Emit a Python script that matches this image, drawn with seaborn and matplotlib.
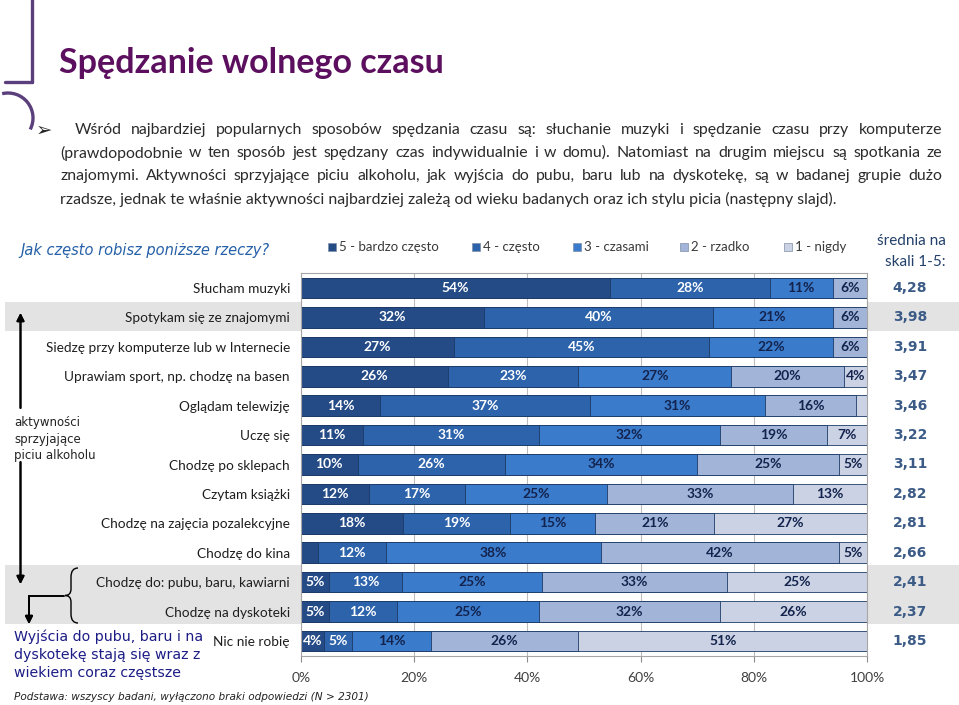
import numpy as np
import pandas as pd
import matplotlib.pyplot as plt
import seaborn as sns
from matplotlib.lines import Line2D
from matplotlib.patches import Rectangle, Arc, PathPatch
from matplotlib.path import Path

activities = [
    "Słucham muzyki",
    "Spotykam się ze znajomymi",
    "Siedzę przy komputerze lub w Internecie",
    "Uprawiam sport, np. chodzę na basen",
    "Oglądam telewizję",
    "Uczę się",
    "Chodzę po sklepach",
    "Czytam książki",
    "Chodzę na zajęcia pozalekcyjne",
    "Chodzę do kina",
    "Chodzę do: pubu, baru, kawiarni",
    "Chodzę na dyskoteki",
    "Nic nie robię",
]
bardzo_czesto = [54, 32, 27, 26, 14, 11, 10, 12, 18, 3, 5, 5, 4]
czesto = [28, 40, 45, 23, 37, 31, 26, 17, 19, 12, 13, 12, 5]
czasami = [11, 21, 22, 27, 31, 32, 34, 25, 15, 38, 25, 25, 14]
rzadko = [6, 6, 6, 20, 16, 19, 25, 33, 21, 42, 33, 32, 26]
nigdy = [0, 0, 0, 4, 2, 7, 5, 13, 27, 5, 25, 26, 51]
srednia = ["4,28", "3,98", "3,91", "3,47", "3,46", "3,22", "3,11",
           "2,82", "2,81", "2,66", "2,41", "2,37", "1,85"]
legend_labels = ["5 - bardzo często", "4 - często", "3 - czasami", "2 - rzadko", "1 - nigdy"]
x_ticks = [0, 20, 40, 60, 80, 100]

colors = ["#244b86", "#2d63ab", "#3a7bcb", "#a2b5d8", "#cad2e3"]
label_colors = ["white", "white", "#13234d", "#13234d", "#13234d"]

W, H = 959, 705
sns.set_style("white")
plt.rcParams["font.family"] = ["Lato", "DejaVu Sans"]

fig = plt.figure(figsize=(W / 100, H / 100), dpi=100)


def fx(x):
    return x / W


def fy(y):
    return 1 - y / H


# logo lines
logo = "#5b3f7d"
fig.add_artist(Line2D([fx(32), fx(32)], [fy(0), fy(82)], color=logo, lw=2.4))
fig.add_artist(Line2D([fx(5), fx(32)], [fy(82), fy(82)], color=logo, lw=2.4))
fig.add_artist(Arc((fx(8), fy(118)), 2 * 25 / W, 2 * 25 / H, theta1=-35, theta2=100,
                   transform=fig.transFigure, color=logo, lw=2.4))

fig.text(fx(59), fy(63), "Spędzanie wolnego czasu", fontsize=24.5, fontweight="bold",
         color="#5c0f5e", va="center", ha="left")

# paragraph (justified by hand)
para = [
    ("Wśród najbardziej popularnych sposobów spędzania czasu są: słuchanie muzyki i spędzanie czasu przy komputerze", 75, 130, True),
    ("(prawdopodobnie w ten sposób jest spędzany czas indywidualnie i w domu). Natomiast na drugim miejscu są spotkania ze", 60, 153, True),
    ("znajomymi. Aktywności sprzyjające piciu alkoholu, jak wyjścia do pubu, baru lub na dyskotekę, są w badanej grupie dużo", 60, 176, True),
    ("rzadsze, jednak te właśnie aktywności najbardziej zależą od wieku badanych oraz ich stylu picia (następny slajd).", 60, 199, False),
]
fig.text(fx(36), fy(130), "➢", fontsize=14, family=["DejaVu Sans"], va="center", color="#222222")
renderer = fig.canvas.get_renderer()
for line, x0, y, just in para:
    if not just:
        fig.text(fx(x0), fy(y), line, fontsize=11.4, color="#2b2b2b", va="center")
        continue
    words = line.split(" ")
    texts = [fig.text(0, fy(y), w, fontsize=11.4, color="#2b2b2b", va="center") for w in words]
    widths = [t.get_window_extent(renderer).width for t in texts]
    gap = (942 - x0 - sum(widths)) / (len(words) - 1)
    x = x0
    for t, w in zip(texts, widths):
        t.set_x(fx(x))
        x += w + gap

fig.text(fx(20), fy(250), "Jak często robisz poniższe rzeczy?", fontsize=10.5, style="italic",
         family=["DejaVu Sans"], color="#2560a8", va="center")

# legend
for lab, col, lx in zip(legend_labels, colors, [328, 472, 573, 680, 784]):
    fig.add_artist(Rectangle((fx(lx), fy(251)), 8 / W, 8 / H, transform=fig.transFigure,
                             facecolor=col, edgecolor="#7f8fa8", lw=0.5))
    fig.text(fx(lx + 11), fy(247), lab, fontsize=9.5, color="#3a3a3a", va="center")

fig.text(fx(946), fy(241), "średnia na", fontsize=11, color="#22406a", ha="right", va="center")
fig.text(fx(946), fy(262), "skali 1-5:", fontsize=11, color="#22406a", ha="right", va="center")

# grey bands
fig.add_artist(Rectangle((fx(5), fy(331)), 1, 29 / H, transform=fig.transFigure,
                         facecolor="#e3e3e3", edgecolor="none", zorder=-5))
fig.add_artist(Rectangle((fx(5), fy(624)), 1, 59 / H, transform=fig.transFigure,
                         facecolor="#e3e3e3", edgecolor="none", zorder=-5))

# stacked bars
ax = fig.add_axes([fx(301), fy(655.7), (867 - 301) / W, (655.7 - 273.3) / H])
vals = np.array([bardzo_czesto, czesto, czasami, rzadko, nigdy], dtype=float).T
shares = vals / vals.sum(axis=1, keepdims=True) * 100
cum = np.cumsum(shares, axis=1)
df = pd.DataFrame(cum, columns=legend_labels)
df["activity"] = activities

for k in reversed(range(5)):
    sns.barplot(data=df, x=legend_labels[k], y="activity", orient="h", color=colors[k],
                saturation=1, width=0.7, edgecolor="#1c3a66", linewidth=0.6, ax=ax)

for i in range(len(activities)):
    for k in range(5):
        if vals[i, k] >= 4:
            xc = cum[i, k] - shares[i, k] / 2
            ax.text(xc, i, f"{int(vals[i, k])}%", ha="center", va="center", fontsize=10,
                    fontweight="bold", color=label_colors[k])
    fig.text(fx(910), ax.transData.transform((0, i))[1] / H, srednia[i], fontsize=10,
             fontweight="bold", family=["DejaVu Sans"], color="#3b5b86", ha="center", va="center")

ax.set_xlim(0, 100)
ax.set_ylim(len(activities) - 0.5, -0.5)
ax.set_xticks(x_ticks)
ax.set_xticklabels([f"{t}%" for t in x_ticks], fontsize=10, color="#404040")
ax.tick_params(axis="x", length=4, width=0.8, color="#8c8c8c", direction="out", bottom=True, pad=8)
ax.tick_params(axis="y", length=0, labelsize=9.8, labelcolor="#1e1e1e", pad=8)
ax.set_xlabel("")
ax.set_ylabel("")
ax.set_axisbelow(True)
ax.xaxis.grid(True, color="#bdbdbd", lw=0.8)
for s in ax.spines.values():
    s.set_visible(True)
    s.set_color("#a6a6a6")
    s.set_linewidth(0.8)

# left annotations
arrow = dict(arrowstyle="-|>", color="black", lw=1.4, mutation_scale=11, shrinkA=0, shrinkB=0)
fig.add_artist(plt.annotate("", xy=(fx(20.5), fy(313)), xytext=(fx(20.5), fy(408)),
                            xycoords="figure fraction", arrowprops=arrow))
fig.add_artist(plt.annotate("", xy=(fx(20.5), fy(584)), xytext=(fx(20.5), fy(462)),
                            xycoords="figure fraction", arrowprops=arrow))
fig.text(fx(14), fy(439), "aktywności\nsprzyjające\npiciu alkoholu", fontsize=8.5,
         family=["DejaVu Sans"], color="#222222", va="center", linespacing=1.35)

brace = [(78, 568), (71, 568), (71, 577), (71, 589), (71, 595.5), (65, 595.5),
         (71, 595.5), (71, 602), (71, 614), (71, 623), (78, 623)]
codes = [Path.MOVETO, Path.CURVE3, Path.CURVE3, Path.LINETO, Path.CURVE3, Path.CURVE3,
         Path.CURVE3, Path.CURVE3, Path.LINETO, Path.CURVE3, Path.CURVE3]
fig.add_artist(PathPatch(Path([(fx(a), fy(b)) for a, b in brace], codes), transform=fig.transFigure,
                         facecolor="none", edgecolor="black", lw=1.0))
fig.add_artist(Line2D([fx(64), fx(29)], [fy(596), fy(596)], color="black", lw=1.4))
fig.add_artist(plt.annotate("", xy=(fx(29), fy(624)), xytext=(fx(29), fy(596)),
                            xycoords="figure fraction", arrowprops=arrow))

fig.text(fx(14), fy(655), "Wyjścia do pubu, baru i na\ndyskotekę stają się wraz z\nwiekiem coraz częstsze",
         fontsize=10.2, family=["DejaVu Sans"], color="#1c1c86", va="center", linespacing=1.35)
fig.text(fx(14), fy(697), "Podstawa: wszyscy badani, wyłączono braki odpowiedzi (N > 2301)",
         fontsize=7.6, style="italic", family=["DejaVu Sans"], color="#222222", va="center")

fig.savefig("out.png", dpi=100)
